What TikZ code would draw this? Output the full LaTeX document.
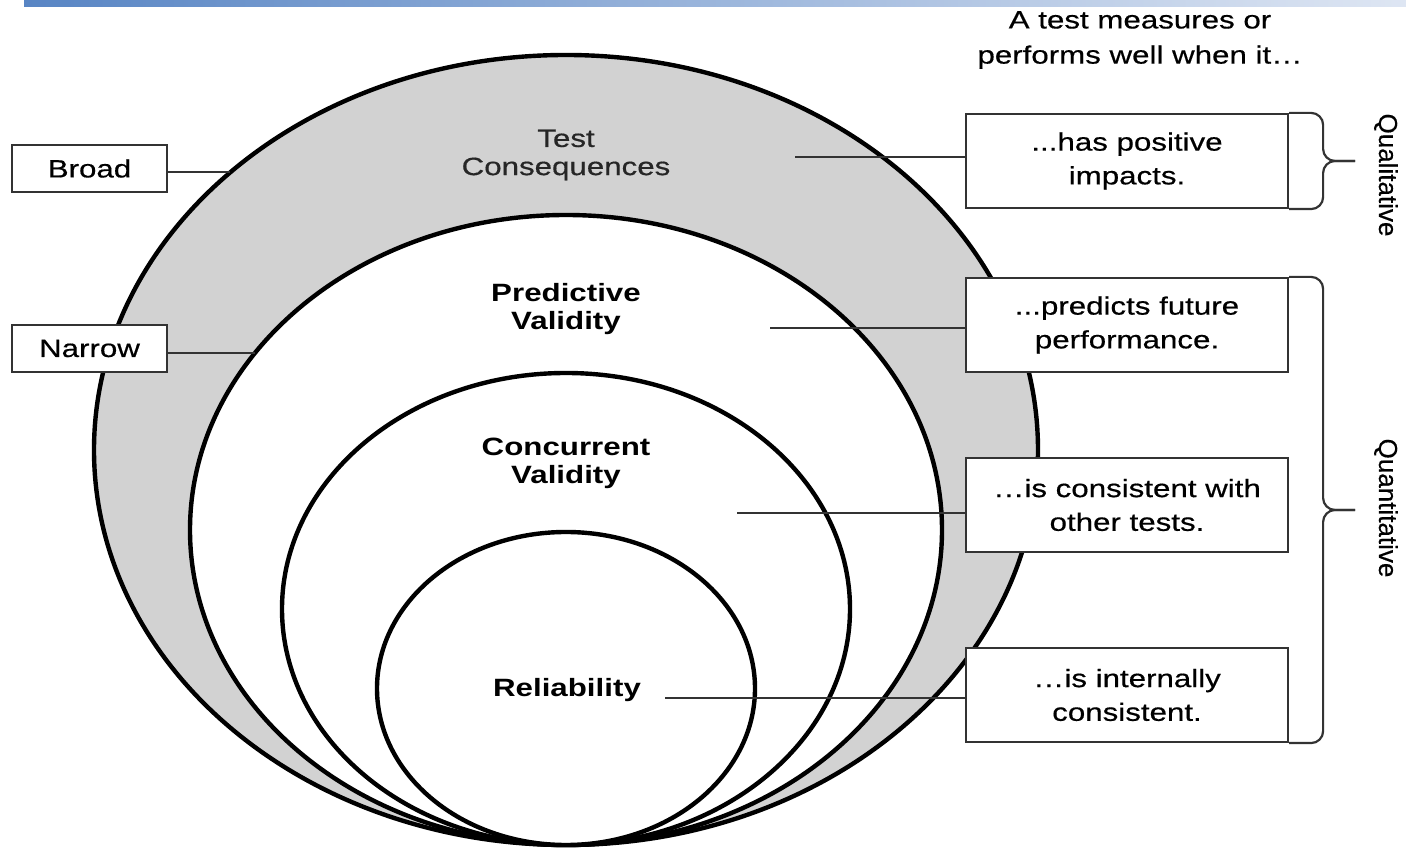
\documentclass[tikz,border=0pt]{standalone}
\usepackage{fontspec}
\setmainfont{Liberation Sans}[FakeStretch=1.25, UprightFeatures={FakeBold=0.5}]
\newfontfamily\uprightsans{Liberation Sans}[FakeBold=0.4]
\usepackage{tikz}
\usetikzlibrary{calc}
\definecolor{ringgray}{RGB}{210,210,210}
\definecolor{edgegray}{RGB}{51,51,51}
\definecolor{barblue}{RGB}{88,133,196}
\definecolor{barpale}{RGB}{222,230,243}

\begin{document}
\begin{tikzpicture}[x=0.25mm, y=0.25mm,
  ring/.style={draw=black, line width=1.1mm},
  lbl/.style={font=\fontsize{17.8}{20}\selectfont, align=center},
  keylbl/.style={lbl, font=\fontsize{17.8}{20}\selectfont\bfseries},
  tag/.style={draw=edgegray, line width=0.55mm, fill=white, minimum width=38.75mm,
    minimum height=11.75mm, font=\fontsize{17.8}{20}\selectfont},
  note/.style={draw=edgegray, line width=0.55mm, fill=white, align=center,
    minimum width=80.5mm, minimum height=23.5mm, font=\fontsize{17.8}{24}\selectfont},
  side/.style={rotate=-90, font=\uprightsans\fontsize{18.5}{20}\selectfont},
  link/.style={draw=edgegray, line width=0.45mm},
  brace/.style={draw=edgegray, line width=0.55mm, rounded corners=3mm}]

\useasboundingbox (0,0) rectangle (1406,850);
\shade[left color=barblue, right color=barpale] (24,843) rectangle (1406,850);

% nested rings, all touching at the bottom
\draw[ring, fill=ringgray] (566,400) ellipse [x radius=472, y radius=395];
\draw[ring, fill=white] (566,320) ellipse [x radius=376, y radius=315];
\draw[ring, fill=white] (566,241) ellipse [x radius=284, y radius=236];
\draw[ring, fill=white] (566,161.5) ellipse [x radius=189, y radius=156.5];

\node[lbl, text=black!85] (conslbl) at (566,695) {Test\\Consequences};
\node[keylbl] (predlbl) at (566,541) {Predictive\\Validity};
\node[keylbl] (conclbl) at (566,387) {Concurrent\\Validity};
\node[keylbl] (rellbl) at (567,160) {Reliability};

\node[lbl, font=\fontsize{17.8}{25}\selectfont] (head) at (1140,810)
  {A test measures or\\performs well when it\ldots};

% scope boxes on the left
\node[tag] (broad) at (89.5,681.5) {Broad};
\node[tag] (narrow) at (89.5,501.5) {Narrow};
\coordinate (broadend) at (230,678);
\coordinate (narrowend) at (255,497);
\draw[link] (broad.east |- broadend) -- (broadend);
\draw[link] (narrow.east |- narrowend) -- (narrowend);

% criteria boxes on the right
\coordinate (consend) at (795,693);
\coordinate (predend) at (770,522);
\coordinate (concend) at (737,337);
\coordinate (relend) at (665,152);

\node[note] (impacts) at (1127,689) {...has positive\\impacts.};
\node[note] (predicts) at (1127,525) {...predicts future\\performance.};
\node[note] (consistent) at (1127,345) {\ldots is consistent with\\other tests.};
\node[note] (internal) at (1127,155) {\ldots is internally\\consistent.};

\draw[link] (consend) -- (consend -| impacts.west);
\draw[link] (predend) -- (predend -| predicts.west);
\draw[link] (concend) -- (concend -| consistent.west);
\draw[link] (relend) -- (relend -| internal.west);

% braces
\coordinate (qualtip) at ($(impacts.east)+(66,0)$);
\coordinate (quanttip) at ($(predicts.north east)!.5!(internal.south east)+(66,0)$);
\draw[brace] (impacts.north east) -| ($(qualtip)+(-32,0)$) -- (qualtip);
\draw[brace] (impacts.south east) -| ($(qualtip)+(-32,0)$) -- (qualtip);
\draw[brace] (predicts.north east) -| ($(quanttip)+(-32,0)$) -- (quanttip);
\draw[brace] (internal.south east) -| ($(quanttip)+(-32,0)$) -- (quanttip);

\node[side] (qual) at (1386,675) {Qualitative};
\node[side] (quant) at (1386,342) {Quantitative};

\end{tikzpicture}
\end{document}
